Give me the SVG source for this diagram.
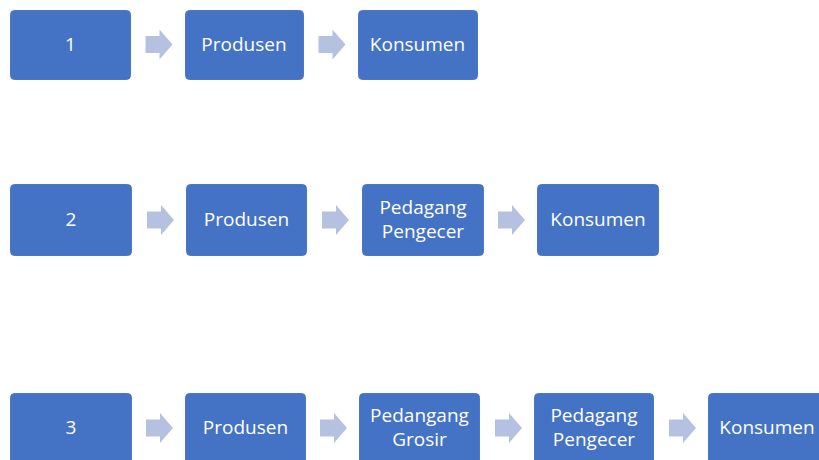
<svg xmlns="http://www.w3.org/2000/svg" xmlns:xlink="http://www.w3.org/1999/xlink" width="819" height="460" viewBox="0 0 819 460">
<style>
.box{fill:#4472C4;stroke:#4A78C8;stroke-width:1}
.t{font-family:"Open Sans","Noto Sans",sans-serif;font-size:19px;fill:#FFFFFF;text-anchor:middle}
.arr{fill:#B4C1E1}
</style>
<defs>
<path id="arrow" class="arr" d="M0,-8.5 H14 V-15 L27,0 L14,15 V8.5 H0 Z"/>
</defs>
<rect width="819" height="460" fill="#FFFFFF"/>
<g id="connectors">
<use xlink:href="#arrow" transform="translate(145.5,44.5)"/>
<use xlink:href="#arrow" transform="translate(318.5,44.5)"/>
<use xlink:href="#arrow" transform="translate(147,220)"/>
<use xlink:href="#arrow" transform="translate(322,220)"/>
<use xlink:href="#arrow" transform="translate(498,220)"/>
<use xlink:href="#arrow" transform="translate(146,428)"/>
<use xlink:href="#arrow" transform="translate(320,428)"/>
<use xlink:href="#arrow" transform="translate(495,428)"/>
<use xlink:href="#arrow" transform="translate(669,428)"/>
</g>
<g id="r1n1"><rect class="box" x="10.5" y="10.5" width="120" height="69" rx="4"/><text class="t" x="70.5" y="51">1</text></g>
<g id="r1n2"><rect class="box" x="185.5" y="10.5" width="118" height="69" rx="4"/><text class="t" x="244" y="51">Produsen</text></g>
<g id="r1n3"><rect class="box" x="358.5" y="10.5" width="119" height="69" rx="4"/><text class="t" x="417.5" y="51">Konsumen</text></g>

<g id="r2n1"><rect class="box" x="10.5" y="184.5" width="121" height="71" rx="4"/><text class="t" x="71" y="226">2</text></g>
<g id="r2n2"><rect class="box" x="186.5" y="184.5" width="120" height="71" rx="4"/><text class="t" x="246.5" y="226">Produsen</text></g>
<g id="r2n3"><rect class="box" x="362.5" y="184.5" width="121" height="71" rx="4"/><text class="t" x="423" y="214">Pedagang</text><text class="t" x="423" y="238">Pengecer</text></g>
<g id="r2n4"><rect class="box" x="537.5" y="184.5" width="121" height="71" rx="4"/><text class="t" x="598" y="226">Konsumen</text></g>

<g id="r3n1"><rect class="box" x="10.5" y="393.5" width="121" height="71" rx="4"/><text class="t" x="71" y="434">3</text></g>
<g id="r3n2"><rect class="box" x="185.5" y="393.5" width="120" height="71" rx="4"/><text class="t" x="245.5" y="434">Produsen</text></g>
<g id="r3n3"><rect class="box" x="359.5" y="393.5" width="120" height="71" rx="4"/><text class="t" x="419.5" y="422">Pedangang</text><text class="t" x="419.5" y="446">Grosir</text></g>
<g id="r3n4"><rect class="box" x="534.5" y="393.5" width="119" height="71" rx="4"/><text class="t" x="594" y="422">Pedagang</text><text class="t" x="594" y="446">Pengecer</text></g>
<g id="r3n5"><rect class="box" x="708.5" y="393.5" width="120" height="71" rx="4"/><text class="t" x="767" y="434">Konsumen</text></g>
</svg>
